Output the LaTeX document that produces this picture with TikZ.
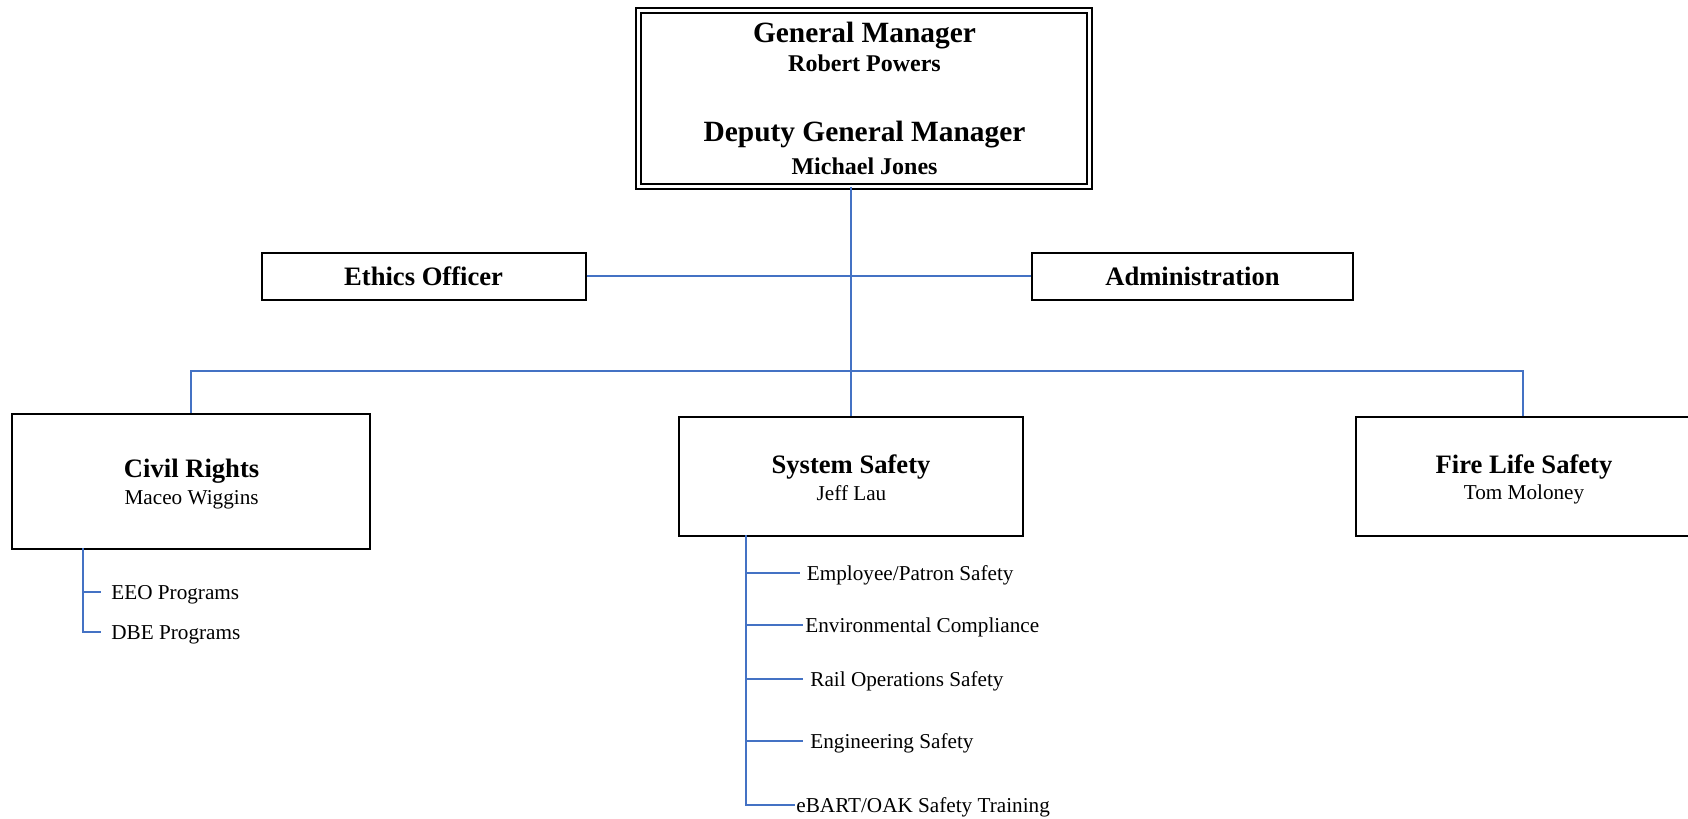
\documentclass[tikz,border=0pt]{standalone}
\usepackage{fontspec}
\setmainfont{Liberation Serif}
\usepackage{tikz}
\definecolor{orgblue}{RGB}{68,114,196}

\begin{document}
\begin{tikzpicture}[
x=0.5pt, y=-0.5pt,
unit/.style={rectangle, draw=black, line width=1pt, inner sep=0pt},
headunit/.style={unit, double, double distance=1.6pt, line width=0.9pt},
gmtitle/.style={anchor=base, inner sep=0pt, font=\fontsize{14.7}{17}\selectfont\bfseries},
gmperson/.style={anchor=base, inner sep=0pt, font=\fontsize{12}{14}\selectfont\bfseries},
title/.style={anchor=base, inner sep=0pt, font=\fontsize{13.3}{16}\selectfont\bfseries},
person/.style={anchor=base, inner sep=0pt, font=\fontsize{10.6}{13}\selectfont},
duty/.style={anchor=west, inner sep=0pt, text height=9pt, text depth=1.3pt, font=\fontsize{10.6}{13}\selectfont},
link/.style={draw=orgblue, line width=1pt},
]
\useasboundingbox (0,0) rectangle (1688,819);
\clip (0,0) rectangle (1688,819);

%Boxes
\node[headunit, minimum width=225.6pt, minimum height=88pt] (gm) at (864,98.5) {};
\node[unit, minimum width=162pt, minimum height=23.5pt, text depth=0pt, font=\fontsize{13.3}{16}\selectfont\bfseries] (eo) at (423.6,276) {Ethics Officer};
\node[unit, minimum width=160.5pt, minimum height=23.5pt, text depth=0pt, font=\fontsize{13.3}{16}\selectfont\bfseries] (adm) at (1192.5,276) {Administration};
\node[unit, minimum width=179.25pt, minimum height=67.75pt] (cr) at (191,481.25) {};
\node[unit, minimum width=172pt, minimum height=59.75pt] (ss) at (851,476.25) {};
\node[unit, minimum width=167.5pt, minimum height=59.5pt] (fls) at (1523,476.5) {};

%Box texts
\node[gmtitle] (gm_t1) at (864.5,42) {General Manager};
\node[gmperson] (gm_p1) at (864.5,71.5) {Robert Powers};
\node[gmtitle] (gm_t2) at (864.5,141) {Deputy General Manager};
\node[gmperson] (gm_p2) at (864.5,174) {Michael Jones};
\node[title] (cr_t) at (191.6,477) {Civil Rights};
\node[person] (cr_p) at (191.6,504) {Maceo Wiggins};
\node[title] (ss_t) at (851,473) {System Safety};
\node[person] (ss_p) at (851.5,500) {Jeff Lau};
\node[title] (fls_t) at (1524,473) {Fire Life Safety};
\node[person] (fls_p) at (1524,499.5) {Tom Moloney};

%Programs and units
\node[duty] (eeo) at (111,592) {EEO Programs};
\node[duty] (dbe) at (111,632) {DBE Programs};
\node[duty] (emp) at (806.5,573) {Employee/Patron Safety};
\node[duty] (env) at (805,625) {Environmental Compliance};
\node[duty] (rail) at (810,679) {Rail Operations Safety};
\node[duty] (eng) at (810,741) {Engineering Safety};
\node[duty] (ebart) at (796,805) {eBART/OAK Safety Training};

%Draw lines
%Main line
\draw[link] (gm.south -| ss.north) -- (ss.north);
\draw[link] (eo.east) -- (adm.west);

%Department bus
\coordinate (bus) at (851,371);
\draw[link] (cr.north) |- (bus) -| (fls.north);

%Civil Rights list
\coordinate (cr_stem) at (83,548);
\draw[link, shorten >=5pt] (cr_stem) |- (dbe.west);
\draw[link, shorten >=5pt] (cr_stem |- eeo.west) -- (eeo.west);

%System Safety list
\coordinate (ss_stem) at (746,535);
\draw[link, shorten >=0.5pt] (ss_stem) |- (ebart.west);
\draw[link, shorten >=3.3pt] (ss_stem |- emp.west) -- (emp.west);
\draw[link, shorten >=1pt] (ss_stem |- env.west) -- (env.west);
\draw[link, shorten >=3.5pt] (ss_stem |- rail.west) -- (rail.west);
\draw[link, shorten >=3.5pt] (ss_stem |- eng.west) -- (eng.west);
\end{tikzpicture}
\end{document}
